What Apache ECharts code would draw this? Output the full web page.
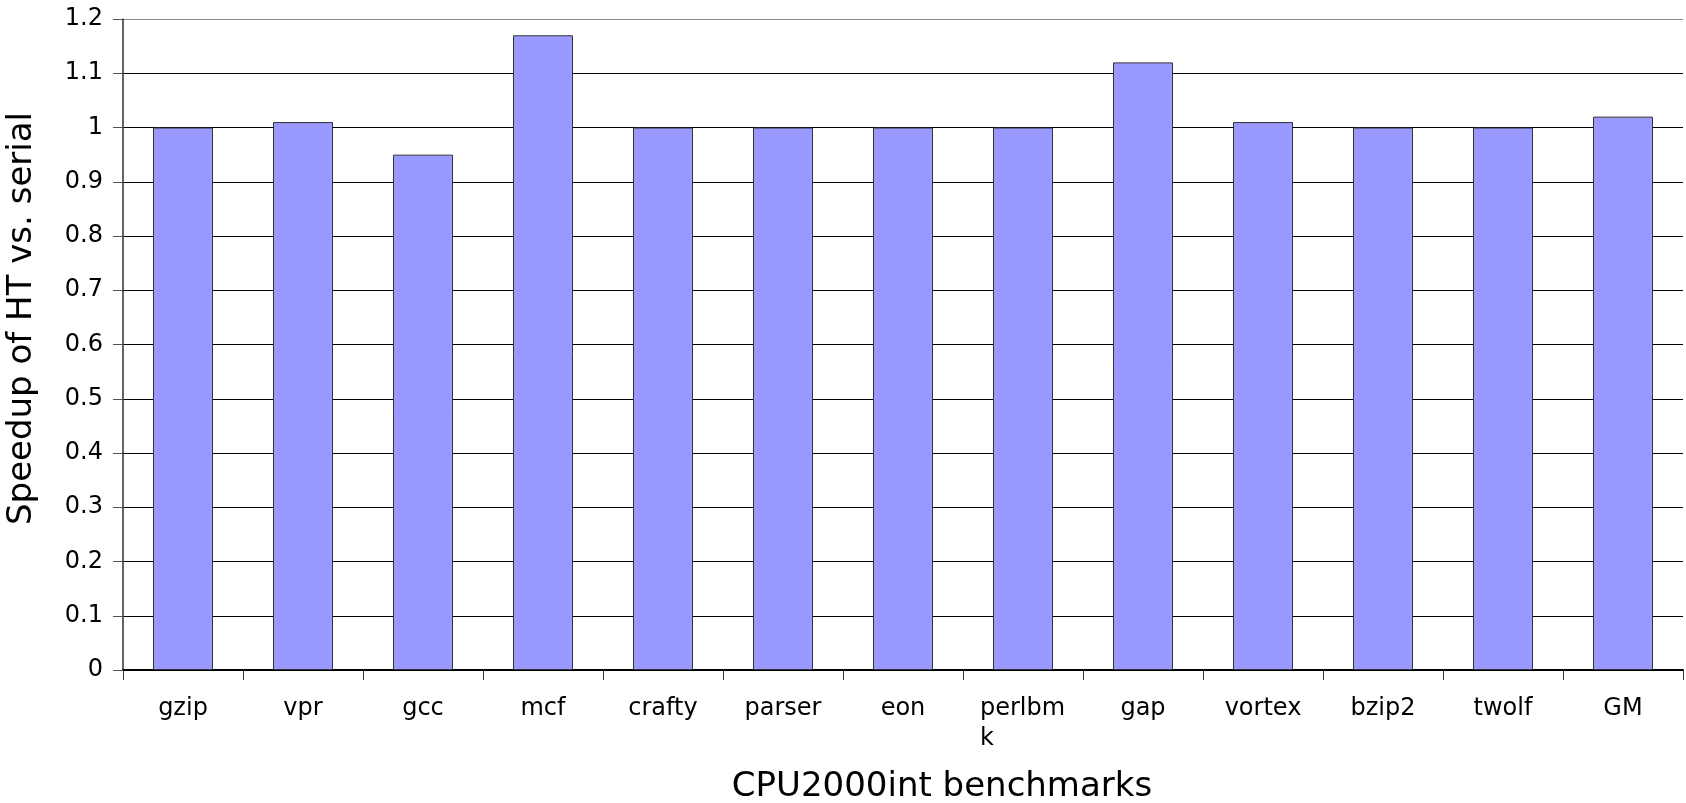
<!DOCTYPE html>
<html>
<head>
<meta charset="utf-8">
<script src="https://cdn.jsdelivr.net/npm/echarts@6/dist/echarts.min.js"></script>
<style>
  html, body { margin: 0; padding: 0; background: #fff; }
  #main { width: 1686px; height: 803px; }
</style>
</head>
<body>
<div id="main"></div>
<script>
// benchmarks on the x axis
var benchmarks = ['gzip', 'vpr', 'gcc', 'mcf', 'crafty', 'parser', 'eon', 'perlbmk', 'gap', 'vortex', 'bzip2', 'twolf', 'GM'];
// speedup of HT vs. serial
var speedup = [1.00, 1.01, 0.95, 1.17, 1.00, 1.00, 1.00, 1.00, 1.12, 1.01, 1.00, 1.00, 1.02];

var chart = echarts.init(document.getElementById('main'), null, { renderer: 'canvas' });

// grid lines are black, the top one greyish
var gridColors = [];
for (var i = 0; i < 12; i++) gridColors.push('#000');
gridColors.push('#888');

chart.setOption({
  animation: false,
  textStyle: { fontFamily: 'DejaVu Sans' },
  grid: {
    left: 123,
    right: 3,
    top: 19,
    bottom: 133,
    containLabel: false,
    outerBoundsMode: 'none'
  },
  xAxis: {
    type: 'category',
    data: benchmarks,
    name: 'CPU2000int benchmarks',
    nameLocation: 'middle',
    nameGap: 100,
    nameTextStyle: { fontSize: 34, color: '#000', padding: [0, 0, 0, 78] },
    axisLine: { lineStyle: { color: '#000', width: 2 } },
    axisTick: { show: true, length: 10, interval: 0, lineStyle: { color: '#333' } },
    axisLabel: {
      interval: 0,
      fontSize: 24,
      color: '#000',
      margin: 24,
      lineHeight: 30,
      // long names wrap like the original, second line flush left
      formatter: function (v) {
        if (v.length > 6) return '{l|' + v.slice(0, 6) + '}\n{l|' + v.slice(6) + '}';
        return v;
      },
      rich: {
        l: { width: 86, align: 'left', fontSize: 24, lineHeight: 30, color: '#000', fontFamily: 'DejaVu Sans' }
      }
    }
  },
  yAxis: {
    type: 'value',
    min: 0,
    max: 1.2,
    interval: 0.1,
    name: 'Speedup of HT vs. serial',
    nameLocation: 'middle',
    nameGap: 84,
    nameTextStyle: { fontSize: 34, color: '#000', padding: [0, 0, 0, 52] },
    axisLine: { show: true, lineStyle: { color: '#333', width: 1.5 } },
    axisTick: { show: true, length: 10, lineStyle: { color: '#555' } },
    axisLabel: { fontSize: 24, color: '#000', margin: 20 },
    splitLine: { show: true, lineStyle: { color: gridColors, width: 1.2 } }
  },
  series: [{
    type: 'bar',
    data: speedup,
    barWidth: '50%',
    itemStyle: { color: '#9999ff', borderColor: '#333', borderWidth: 1 }
  }]
});
</script>
</body>
</html>
